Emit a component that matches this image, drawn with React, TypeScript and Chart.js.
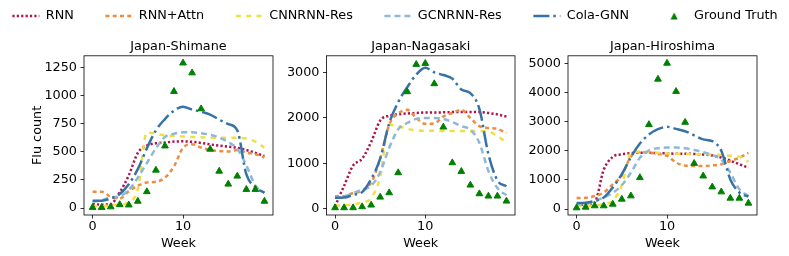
import React, { useEffect, useRef } from "react";
import { Chart, registerables } from "chart.js";

Chart.register(...registerables);

// ---------------- data ----------------
const weeks = [0, 1, 2, 3, 4, 5, 6, 7, 8, 9, 10, 11, 12, 13, 14, 15, 16, 17, 18, 19];
const xTicks = [0, 10];

const shimaneGT = [5, 5, 10, 30, 27, 60, 145, 336, 551, 1035, 1288, 1200, 881, 522, 327, 212, 283, 165, 165, 60];
const shimaneRNN = [35, 30, 35, 140, 290, 490, 555, 575, 582, 590, 592, 588, 578, 565, 555, 545, 535, 515, 490, 462];
const shimaneAttn = [145, 145, 100, 85, 150, 198, 227, 233, 270, 370, 535, 566, 537, 516, 507, 501, 516, 492, 478, 448];
const shimaneCNN = [20, 15, 25, 30, 50, 168, 670, 660, 645, 640, 635, 630, 628, 625, 625, 623, 625, 615, 590, 537];
const shimaneGCN = [55, 70, 95, 105, 160, 270, 400, 530, 630, 660, 672, 672, 665, 650, 625, 585, 525, 380, 200, 135];
const shimaneCola = [65, 65, 85, 125, 212, 345, 530, 690, 790, 865, 900, 875, 855, 830, 785, 745, 690, 300, 185, 135];
const shimaneYTicks = [0, 250, 500, 750, 1000, 1250];

const nagasakiGT = [15, 15, 15, 37, 74, 250, 346, 789, 2580, 3184, 3206, 2757, 1799, 1010, 818, 516, 324, 273, 273, 162];
const nagasakiRNN = [50, 500, 950, 1100, 1470, 1940, 2050, 2080, 2100, 2110, 2120, 2120, 2125, 2130, 2130, 2130, 2130, 2110, 2080, 2030];
const nagasakiAttn = [270, 270, 340, 390, 570, 1100, 1850, 2100, 2180, 2000, 1870, 1880, 2030, 2110, 2180, 2000, 1820, 1780, 1760, 1670];
const nagasakiCNN = [60, 70, 90, 130, 230, 700, 1850, 1820, 1760, 1730, 1720, 1720, 1710, 1710, 1710, 1710, 1710, 1700, 1600, 1460];
const nagasakiGCN = [235, 270, 340, 420, 500, 800, 1340, 1750, 1890, 1980, 2000, 2000, 1980, 1910, 1820, 1740, 1450, 830, 450, 290];
const nagasakiCola = [235, 240, 300, 360, 650, 1100, 1880, 2350, 2680, 2960, 3110, 3010, 2950, 2870, 2630, 2550, 2200, 1200, 620, 490];
const nagasakiYTicks = [0, 1000, 2000, 3000];

const hiroshimaGT = [45, 68, 114, 114, 170, 341, 454, 1079, 2897, 4453, 5000, 4033, 2976, 1568, 1136, 761, 591, 375, 375, 205];
const hiroshimaRNN = [170, 150, 230, 1350, 1790, 1880, 1920, 1930, 1930, 1920, 1910, 1900, 1900, 1890, 1870, 1840, 1770, 1660, 1540, 1420];
const hiroshimaAttn = [380, 390, 450, 570, 850, 1150, 1800, 1950, 1940, 1890, 1830, 1600, 1490, 1480, 1480, 1500, 1540, 1650, 1760, 1930];
const hiroshimaCNN = [110, 110, 140, 170, 290, 820, 1930, 1980, 1950, 1930, 1910, 1900, 1890, 1880, 1880, 1870, 1860, 1830, 1800, 1620];
const hiroshimaGCN = [170, 180, 280, 400, 560, 820, 1250, 1760, 2010, 2090, 2110, 2110, 2090, 2030, 1950, 1850, 1700, 1250, 680, 450];
const hiroshimaCola = [210, 220, 280, 400, 740, 1200, 1780, 2250, 2560, 2740, 2820, 2750, 2670, 2530, 2390, 2330, 2000, 1020, 570, 430];
const hiroshimaYTicks = [0, 1000, 2000, 3000, 4000, 5000];

const seriesNames = ["RNN", "RNN+Attn", "CNNRNN-Res", "GCNRNN-Res", "Cola-GNN"];
const gtName = "Ground Truth";

// ---------------- styles ----------------
const FONT_FAMILY = "'DejaVu Sans', 'Liberation Sans', sans-serif";
const FONT = { family: FONT_FAMILY, size: 12.8, weight: "normal" as const, lineHeight: 1.2 };
const SERIES_STYLE = [
  { color: "#b0124a", dash: [2.2, 2.2] },
  { color: "#ef8c3f", dash: [4, 3.3] },
  { color: "#efe040", dash: [5, 5.3] },
  { color: "#8fb8d6", dash: [6, 4] },
  { color: "#3672a8", dash: [16, 4, 2.5, 4] },
];
const GT_COLOR = "#008000";
const LINE_W = 2.5;

const PANELS = [
  {
    title: "Japan-Shimane", left: 0, width: 278, yWidth: 84, padRight: 5,
    yMin: -62, yMax: 1352, yTicks: shimaneYTicks, yLabel: "Flu count",
    series: [shimaneRNN, shimaneAttn, shimaneCNN, shimaneGCN, shimaneCola], gt: shimaneGT,
  },
  {
    title: "Japan-Nagasaki", left: 278, width: 242, yWidth: 48.5, padRight: 4.5,
    yMin: -145, yMax: 3375, yTicks: nagasakiYTicks, yLabel: "",
    series: [nagasakiRNN, nagasakiAttn, nagasakiCNN, nagasakiGCN, nagasakiCola], gt: nagasakiGT,
  },
  {
    title: "Japan-Hiroshima", left: 520, width: 244, yWidth: 48, padRight: 7,
    yMin: -200, yMax: 5255, yTicks: hiroshimaYTicks, yLabel: "",
    series: [hiroshimaRNN, hiroshimaAttn, hiroshimaCNN, hiroshimaGCN, hiroshimaCola], gt: hiroshimaGT,
  },
];

const boxPlugin = {
  id: "axesBox",
  afterDraw(chart: any) {
    const { ctx, chartArea } = chart;
    ctx.save();
    ctx.strokeStyle = "#000";
    ctx.lineWidth = 0.8;
    ctx.setLineDash([]);
    ctx.strokeRect(chartArea.left, chartArea.top, chartArea.right - chartArea.left, chartArea.bottom - chartArea.top);
    ctx.restore();
  },
};

function makePanel(canvas: HTMLCanvasElement, p: any) {
  const datasets: any[] = seriesNames.map((name, i) => ({
    type: "line",
    label: name,
    data: weeks.map((w, j) => ({ x: w, y: p.series[i][j] })),
    borderColor: SERIES_STYLE[i].color,
    backgroundColor: SERIES_STYLE[i].color,
    borderWidth: LINE_W,
    borderDash: SERIES_STYLE[i].dash,
    pointRadius: 0,
    fill: false,
    cubicInterpolationMode: "monotone",
    order: 10 - i,
  }));
  datasets.push({
    type: "line",
    label: gtName,
    data: weeks.map((w, j) => ({ x: w, y: p.gt[j] })),
    showLine: false,
    pointStyle: "triangle",
    pointRadius: 3.9,
    pointBorderWidth: 1,
    backgroundColor: GT_COLOR,
    borderColor: GT_COLOR,
    order: 0,
  });
  const grid = { display: true, drawOnChartArea: false, drawTicks: true, tickLength: 3.5, color: "#000", lineWidth: 0.8 };
  return new Chart(canvas, {
    type: "line",
    data: { datasets },
    plugins: [boxPlugin],
    options: {
      responsive: false,
      animation: false,
      events: [],
      layout: { padding: { left: 0, right: p.padRight, top: 0, bottom: 0 } },
      plugins: {
        legend: { display: false },
        tooltip: { enabled: false },
        title: { display: false },
      },
      scales: {
        x: {
          type: "linear", min: -0.95, max: 19.95,
          afterBuildTicks: (s: any) => { s.ticks = xTicks.map((v) => ({ value: v })); },
          afterFit: (s: any) => { s.height = 41; },
          ticks: { padding: 0, color: "#000", font: FONT, maxRotation: 0, autoSkip: false, callback: (v: any) => String(v) },
          grid, border: { display: false },
          title: { display: true, text: "Week", color: "#000", font: FONT, padding: { top: 0, bottom: 4.4 } },
        },
        xTitle: {
          type: "linear", position: "top", min: 0, max: 1,
          afterFit: (s: any) => { s.height = 25.8; },
          ticks: { display: false },
          grid: { display: false },
          border: { display: false },
          title: { display: true, text: p.title, color: "#000", font: FONT, padding: { top: 8.9, bottom: 0 } },
        },
        y: {
          type: "linear", min: p.yMin, max: p.yMax,
          afterBuildTicks: (s: any) => { s.ticks = p.yTicks.map((v: number) => ({ value: v })); },
          afterFit: (s: any) => { s.width = p.yWidth; },
          ticks: { padding: 3.5, color: "#000", font: FONT, autoSkip: false, callback: (v: any) => String(v) },
          grid, border: { display: false },
          title: p.yLabel
            ? { display: true, text: p.yLabel, color: "#000", font: FONT, padding: { top: 29.6, bottom: 0 } }
            : { display: false },
        },
      },
    } as any,
  });
}

function triangleImage(color: string) {
  const c = document.createElement("canvas");
  c.width = 8;
  c.height = 8;
  const ctx = c.getContext("2d")!;
  ctx.fillStyle = color;
  ctx.beginPath();
  ctx.moveTo(4, 0.5);
  ctx.lineTo(7.6, 7.5);
  ctx.lineTo(0.4, 7.5);
  ctx.closePath();
  ctx.fill();
  return c;
}

function makeLegend(canvas: HTMLCanvasElement) {
  const items: any[] = seriesNames.map((name, i) => ({
    text: name,
    fillStyle: SERIES_STYLE[i].color,
    strokeStyle: SERIES_STYLE[i].color,
    lineWidth: LINE_W,
    lineDash: SERIES_STYLE[i].dash,
    pointStyle: "line",
    hidden: false,
    fontColor: "#000",
  }));
  items.push({
    text: gtName, fillStyle: GT_COLOR, strokeStyle: GT_COLOR, lineWidth: 0,
    lineDash: [], pointStyle: triangleImage(GT_COLOR), hidden: false, fontColor: "#000",
  });
  return new Chart(canvas, {
    type: "line",
    data: { datasets: [] },
    options: {
      responsive: false,
      animation: false,
      events: [],
      layout: { padding: 0 },
      scales: { x: { display: false }, y: { display: false } },
      plugins: {
        tooltip: { enabled: false },
        title: { display: false },
        legend: {
          display: true,
          position: "top",
          align: "center",
          labels: {
            usePointStyle: true,
            pointStyleWidth: 27,
            boxHeight: 5.8,
            padding: 31.6,
            color: "#000",
            font: FONT,
            generateLabels: () => items,
          },
        },
      },
    } as any,
  });
}

export default function App() {
  const legendRef = useRef<HTMLCanvasElement>(null);
  const r0 = useRef<HTMLCanvasElement>(null);
  const r1 = useRef<HTMLCanvasElement>(null);
  const r2 = useRef<HTMLCanvasElement>(null);
  const refs = [r0, r1, r2];

  useEffect(() => {
    const charts: Chart[] = [];
    if (legendRef.current) charts.push(makeLegend(legendRef.current));
    PANELS.forEach((p, i) => {
      const c = refs[i].current;
      if (c) charts.push(makePanel(c, p));
    });
    return () => charts.forEach((c) => c.destroy());
  }, []);

  return (
    <div style={{ position: "absolute", left: 0, top: 0, width: 789, height: 256, overflow: "hidden", background: "#fff" }}>
      <canvas ref={legendRef} width={902} height={112}
        style={{ position: "absolute", left: -56, top: -21.6, width: 902, height: 112 }} />
      {PANELS.map((p, i) => (
        <canvas key={i} ref={refs[i]} width={p.width} height={226}
          style={{ position: "absolute", left: p.left, top: 30, width: p.width, height: 226 }} />
      ))}
    </div>
  );
}
